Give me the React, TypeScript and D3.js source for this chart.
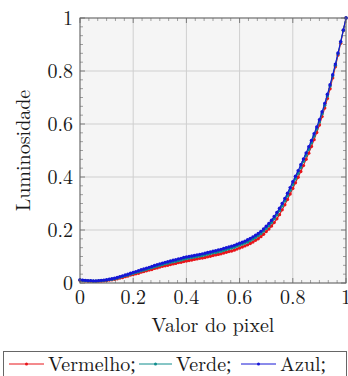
import React from "react";
import * as d3 from "d3";

const xValues: number[] = d3.range(0, 101).map((i) => i / 100);

const vermelho: number[] = [
  0.010, 0.009, 0.008, 0.007, 0.007, 0.006, 0.006, 0.007, 0.007, 0.008, 0.009,
  0.011, 0.012, 0.014, 0.016, 0.019, 0.021, 0.024, 0.026, 0.030, 0.032,
  0.035, 0.037, 0.041, 0.043, 0.046, 0.049, 0.051, 0.055, 0.057, 0.060,
  0.063, 0.065, 0.067, 0.070, 0.072, 0.074, 0.077, 0.078, 0.081, 0.083,
  0.085, 0.087, 0.089, 0.091, 0.093, 0.094, 0.096, 0.099, 0.101, 0.104,
  0.106, 0.108, 0.110, 0.113, 0.116, 0.119, 0.121, 0.124, 0.128, 0.132,
  0.136, 0.140, 0.144, 0.149, 0.155, 0.161, 0.167, 0.175, 0.184, 0.194,
  0.204, 0.215, 0.228, 0.242, 0.258, 0.276, 0.295, 0.315, 0.336, 0.357,
  0.378, 0.399, 0.421, 0.443, 0.467, 0.490, 0.515, 0.541, 0.568, 0.596,
  0.628, 0.660, 0.696, 0.733, 0.774, 0.816, 0.860, 0.905, 0.953, 1.000,
];

const verde: number[] = [
  0.011, 0.010, 0.009, 0.008, 0.008, 0.007, 0.007, 0.008, 0.009, 0.010, 0.011,
  0.013, 0.014, 0.016, 0.019, 0.022, 0.025, 0.028, 0.030, 0.034, 0.037,
  0.040, 0.042, 0.046, 0.049, 0.052, 0.055, 0.058, 0.061, 0.064, 0.067,
  0.070, 0.073, 0.075, 0.078, 0.080, 0.082, 0.085, 0.087, 0.090, 0.092,
  0.094, 0.096, 0.098, 0.100, 0.102, 0.104, 0.106, 0.109, 0.111, 0.114,
  0.115, 0.118, 0.120, 0.123, 0.126, 0.129, 0.132, 0.135, 0.139, 0.143,
  0.147, 0.151, 0.155, 0.160, 0.166, 0.172, 0.179, 0.187, 0.196, 0.206,
  0.216, 0.228, 0.242, 0.257, 0.273, 0.291, 0.310, 0.329, 0.350, 0.372,
  0.393, 0.414, 0.436, 0.459, 0.482, 0.505, 0.529, 0.555, 0.581, 0.608,
  0.639, 0.671, 0.706, 0.743, 0.782, 0.822, 0.865, 0.909, 0.954, 1.000,
];

const azul: number[] = [
  0.012, 0.011, 0.010, 0.009, 0.009, 0.008, 0.008, 0.009, 0.010, 0.011, 0.012,
  0.014, 0.016, 0.018, 0.021, 0.024, 0.027, 0.030, 0.033, 0.037, 0.040,
  0.043, 0.046, 0.050, 0.053, 0.056, 0.059, 0.062, 0.066, 0.069, 0.072,
  0.075, 0.078, 0.080, 0.083, 0.086, 0.088, 0.091, 0.093, 0.096, 0.098,
  0.100, 0.102, 0.104, 0.106, 0.108, 0.110, 0.112, 0.115, 0.117, 0.120,
  0.122, 0.125, 0.127, 0.130, 0.133, 0.136, 0.139, 0.142, 0.146, 0.150,
  0.154, 0.158, 0.163, 0.168, 0.174, 0.180, 0.187, 0.195, 0.204, 0.214,
  0.225, 0.237, 0.251, 0.266, 0.282, 0.300, 0.319, 0.339, 0.360, 0.382,
  0.403, 0.424, 0.446, 0.468, 0.491, 0.514, 0.538, 0.563, 0.589, 0.616,
  0.646, 0.678, 0.712, 0.748, 0.786, 0.826, 0.868, 0.911, 0.955, 1.000,
];

const tickValues: number[] = [0, 0.2, 0.4, 0.6, 0.8, 1];
const tickLabels: string[] = ["0", "0.2", "0.4", "0.6", "0.8", "1"];

const seriesNames: string[] = ["Vermelho", "Verde", "Azul"];
const seriesColors: string[] = ["#e8141a", "#0f8c8c", "#1616d6"];
const seriesData: number[][] = [vermelho, verde, azul];

const W = 348;
const H = 376;
const left = 80;
const right = 346;
const top = 18;
const bottom = 283;
const FONT = "Latin Modern Roman";
const PUNCT_FONT = "Liberation Serif";

export default function App() {
  const x = d3.scaleLinear().domain([0, 1]).range([left, right]);
  const y = d3.scaleLinear().domain([0, 1]).range([bottom, top]);
  const line = d3
    .line<[number, number]>()
    .x((d) => x(d[0]))
    .y((d) => y(d[1]));

  const minor: number[] = [];
  for (let i = 0; i < 5; i++) {
    for (let j = 1; j <= 5; j++) minor.push(tickValues[i] + (j * 0.2) / 6);
  }

  const frame = "#666";
  const tp = { fontFamily: FONT, fontSize: 20, fill: "#1a1a1a" };

  const legendItems = [
    { lx1: 9, lx2: 44, tx: 48 },
    { lx1: 139, lx2: 172, tx: 176 },
    { lx1: 241, lx2: 276, tx: 280 },
  ];
  const legendY = 364;

  return (
    <svg
      width={W}
      height={H}
      fontFamily={FONT}
      style={{ position: "absolute", left: 0, top: 0, background: "#fff" }}
    >
      <rect x={left} y={top} width={right - left} height={bottom - top} fill="#f5f5f5" />
      {tickValues.map((t, i) => (
        <g key={"g" + i}>
          <line x1={x(t)} x2={x(t)} y1={top} y2={bottom} stroke="#cfcfcf" strokeWidth={1} />
          <line x1={left} x2={right} y1={y(t)} y2={y(t)} stroke="#cfcfcf" strokeWidth={1} />
        </g>
      ))}
      {minor.map((t, i) => (
        <g key={"m" + i} stroke={frame} strokeWidth={0.6}>
          <line x1={x(t)} x2={x(t)} y1={bottom} y2={bottom - 3} />
          <line x1={x(t)} x2={x(t)} y1={top} y2={top + 3} />
          <line x1={left} x2={left + 3} y1={y(t)} y2={y(t)} />
          <line x1={right} x2={right - 3} y1={y(t)} y2={y(t)} />
        </g>
      ))}
      {tickValues.map((t, i) => (
        <g key={"M" + i} stroke={frame} strokeWidth={0.8}>
          <line x1={x(t)} x2={x(t)} y1={bottom} y2={bottom - 5} />
          <line x1={x(t)} x2={x(t)} y1={top} y2={top + 5} />
          <line x1={left} x2={left + 5} y1={y(t)} y2={y(t)} />
          <line x1={right} x2={right - 5} y1={y(t)} y2={y(t)} />
        </g>
      ))}
      {seriesData.map((vals, s) => {
        const pts: [number, number][] = xValues.map((v, i) => [v, vals[i]]);
        return (
          <g key={"s" + s}>
            <path d={line(pts) || ""} fill="none" stroke={seriesColors[s]} strokeWidth={1.1} />
            {pts.map((p, i) => (
              <circle key={i} cx={x(p[0])} cy={y(p[1])} r={1.7} fill={seriesColors[s]} />
            ))}
          </g>
        );
      })}
      <rect
        x={left}
        y={top}
        width={right - left}
        height={bottom - top}
        fill="none"
        stroke={frame}
        strokeWidth={1}
      />
      {tickValues.map((t, i) => (
        <text key={"yl" + i} x={left - 7} y={y(t) + 6.5} textAnchor="end" {...tp}>
          {tickLabels[i]}
        </text>
      ))}
      {tickValues.map((t, i) => (
        <text key={"xl" + i} x={x(t)} y={bottom + 21} textAnchor="middle" {...tp}>
          {tickLabels[i]}
        </text>
      ))}
      <text x={(left + right) / 2} y={332} textAnchor="middle" {...tp}>
        Valor do pixel
      </text>
      <text
        transform={`translate(30, ${(top + bottom) / 2}) rotate(-90)`}
        textAnchor="middle"
        {...tp}
      >
        Luminosidade
      </text>
      <rect x={3.5} y={351.5} width={343} height={30} fill="#fff" stroke="#666" strokeWidth={1} />
      {legendItems.map((it, i) => (
        <g key={"lg" + i}>
          <line
            x1={it.lx1}
            x2={it.lx2}
            y1={legendY}
            y2={legendY}
            stroke={seriesColors[i]}
            strokeWidth={1}
          />
          <circle cx={(it.lx1 + it.lx2) / 2} cy={legendY} r={1.5} fill={seriesColors[i]} />
          <text x={it.tx} y={legendY + 6.5} {...tp}>
            {seriesNames[i]}
            <tspan fontFamily={PUNCT_FONT}>;</tspan>
          </text>
        </g>
      ))}
    </svg>
  );
}
